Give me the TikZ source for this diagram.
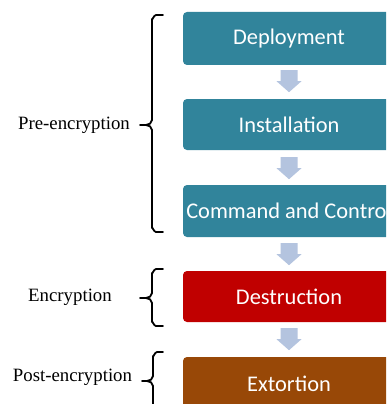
\documentclass[tikz,border=0pt]{standalone}
\usepackage{fontspec}
\setmainfont{Liberation Serif}
\newfontfamily\stagefont{Carlito}
\usetikzlibrary{calc}
\definecolor{tealstage}{HTML}{31849B}
\definecolor{redstage}{HTML}{C00000}
\definecolor{brownstage}{HTML}{984807}
\definecolor{arrowfill}{HTML}{B4C4DF}
\tikzset{
  stage/.style={rectangle, rounded corners=4pt, minimum width=212pt, inner sep=0pt,
    text=white, font=\stagefont\fontsize{22.4}{24}\selectfont},
  phaselabel/.style={inner sep=0pt, font=\fontsize{18.8}{21}\selectfont},
  bracket/.style={line width=1.8pt, line join=round, line cap=round},
  dnarrow/.pic={\fill[arrowfill] (-8.5,0) -- (8.5,0) -- (8.5,11) -- (12.5,11)
    -- (0,22) -- (-12.5,11) -- (-8.5,11) -- cycle;}
}
\begin{document}
\begin{tikzpicture}[x=1pt, y=-1pt]
\useasboundingbox (0,0) rectangle (386,404);
\clip (0,0) rectangle (386,404);
\fill[white] (0,0) rectangle (386,404);

% the five stages
\node[stage, fill=tealstage, minimum height=53pt] (dep) at (289,38.5) {Deployment};
\node[stage, fill=tealstage, minimum height=51pt] (ins) at (289,124.5) {Installation};
\node[stage, fill=tealstage, minimum height=52pt] (cnc) at (289,211) {Command and Control};
\node[stage, fill=redstage, minimum height=51pt] (des) at (289,296.5) {Destruction};
\node[stage, fill=brownstage, minimum height=53pt] (ext) at (289,383.5) {Extortion};

% block arrows between the stages
\path ($(dep.south)+(0,5)$) pic {dnarrow};
\path ($(ins.south)+(0,7)$) pic {dnarrow};
\path ($(cnc.south)+(0,6)$) pic {dnarrow};
\path ($(des.south)+(0,6)$) pic {dnarrow};

% phase labels
\node[phaselabel] (pre) at (74,125) {Pre-encryption};
\node[phaselabel] (enc) at (70,297) {Encryption};
\node[phaselabel] (post) at (72.5,377) {Post-encryption};

% brackets grouping the stages
\draw[bracket] (163,15) -- (156,15) to[out=180,in=-90] (152,19) -- (152,120)
  to[out=-90,in=0] (146,125) -- (140,125) (146,125) to[out=0,in=90] (152,130)
  -- (152,228) to[out=90,in=180] (156,232) -- (163,232);
\draw[bracket] (163,269) -- (156,269) to[out=180,in=-90] (152,273) -- (152,293)
  to[out=-90,in=0] (146,298) -- (140,298) (146,298) to[out=0,in=90] (152,303)
  -- (152,322) to[out=90,in=180] (156,326) -- (163,326);
\draw[bracket] (163,352) -- (157,352) to[out=180,in=-90] (153,356) -- (153,376)
  to[out=-90,in=0] (147,381) -- (142,381) (147,381) to[out=0,in=90] (153,386)
  -- (153,420);
\end{tikzpicture}
\end{document}
